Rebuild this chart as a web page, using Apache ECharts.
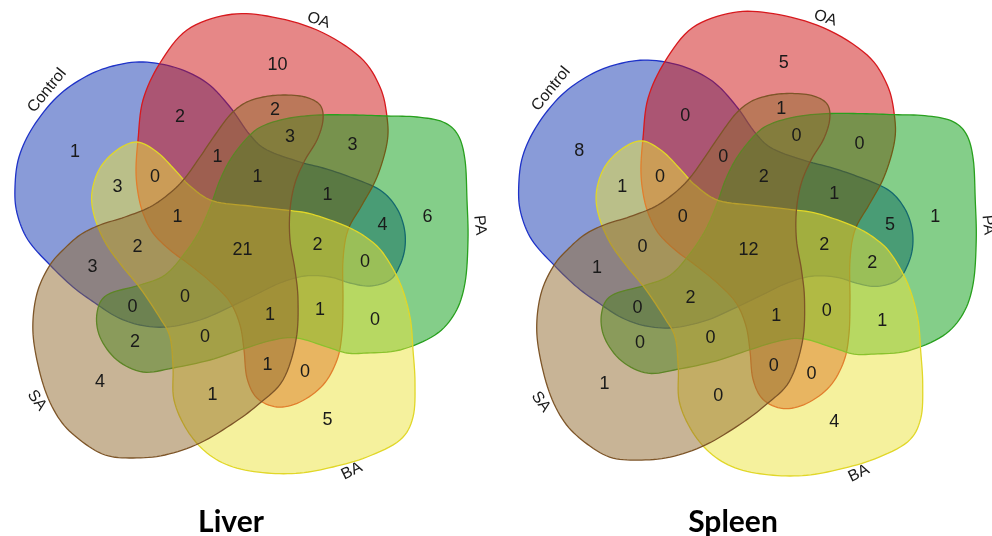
<!DOCTYPE html>
<html><head><meta charset="utf-8">
<script src="https://cdn.jsdelivr.net/npm/echarts@6/dist/echarts.min.js"></script>
<style>html,body{margin:0;padding:0;background:#fff}#c{width:992px;height:536px}</style>
</head><body><div id="c"></div>
<script>
// ---------- DATA ----------
const setNames = ['Control', 'OA', 'PA', 'BA', 'SA'];
const setLetters = ['C', 'O', 'P', 'B', 'S'];
const panelNames = ['Liver', 'Spleen'];
// region = which sets it belongs to (letters in set order)
const regionCodes = ['O','C','P','B','S','CO','OS','OPS','OP','COS','COB','CB','COPS','COP','COBS','CP','CBS','COPB','COPBS','CS','CPB','CPBS','CPS','OPBS','OPB','PB','PS','PBS','OBS','OB','BS'];
const liverValues  = [10,1,6,5,4,2,2,3,3,1,0,3,1,1,1,4,2,2,21,3,0,0,0,1,1,0,2,0,1,0,1];
const spleenValues = [5,8,1,4,1,0,1,0,0,0,0,1,2,1,0,5,0,2,12,1,2,2,0,1,0,1,0,0,0,0,0];

// ---------- LAYOUT (shape outlines of the diagram template, pixels) ----------
const shapeOutlines = [
  // Control
  [[143,62],[177,68],[207,83],[230,107],[250,135],[267,150],[300,162],[323,168],[350,177],[380,190],[396,207],[404,227],[405,247],[400,265],[390,280],[370,286],[350,283],[330,277],[305,276],[280,283],[255,295],[230,307],[200,320],[167,327],[140,325],[117,317],[95,303],[73,287],[50,265],[28,240],[17,213],[15,187],[19,157],[33,127],[57,97],[85,77],[113,66]],
  // OA
  [[160,63],[187,30],[227,15],[267,16],[317,30],[360,57],[380,87],[387,117],[387,143],[377,177],[362,205],[348,230],[343,260],[343,300],[342,333],[337,360],[323,385],[300,402],[277,407],[257,398],[247,378],[244,350],[240,325],[230,302],[212,283],[190,265],[170,250],[153,233],[143,213],[138,193],[136,170],[138,140],[143,100]],
  // PA
  [[250,135],[265,125],[290,118],[320,115],[355,115],[387,116],[417,117],[443,122],[458,135],[465,160],[467,200],[468,240],[465,283],[455,313],[435,335],[400,350],[367,353],[347,353],[327,347],[297,338],[273,340],[240,350],[210,360],[173,368],[143,372],[117,360],[100,337],[97,313],[107,295],[140,285],[165,275],[185,253],[200,230],[211,205],[220,180],[232,157]],
  // BA
  [[137,142],[157,152],[175,170],[190,186],[213,201],[250,206],[285,210],[307,213],[330,220],[350,228],[367,238],[383,253],[400,283],[410,317],[413,350],[415,383],[413,417],[400,440],[367,457],[333,467],[300,473],[267,473],[233,467],[207,453],[187,430],[174,400],[173,367],[170,337],[160,318],[140,288],[122,266],[105,242],[94,215],[92,192],[100,168],[117,150]],
  // SA
  [[50,265],[38,290],[33,320],[35,350],[45,390],[60,420],[80,440],[105,455],[133,458],[165,455],[200,443],[235,422],[260,403],[283,380],[296,340],[298,300],[295,270],[290,240],[290,210],[295,183],[305,160],[317,140],[323,120],[320,105],[305,97],[283,95],[263,97],[245,103],[230,115],[215,135],[200,157],[185,178],[170,193],[150,207],[125,217],[100,225],[80,235],[63,250]]
];
const diagramCenter = [244, 250];
const setLabelAngles = [141, 72, 6, -64, 216];   // degrees, direction of each set name from centre
const setLabelGap = [12, 10, 12, 9, 12];
const panels = [ {dx: 0, dy: 0, s: 1.0}, {dx: 506, dy: 0, s: 1.01} ];
const panelTitleX = [231, 733];
const fillColors = ['rgba(20,55,178,0.5)','rgba(205,15,15,0.5)','rgba(10,157,20,0.5)','rgba(235,228,60,0.5)','rgba(145,105,45,0.5)'];
const strokeColors = ['#1e32c8','#d7191e','#28a01e','#e1d728','#7d5528'];

// ---------- GEOMETRY HELPERS ----------
function catmull(pts, n) {
  const out = [], N = pts.length;
  for (let i = 0; i < N; i++) {
    const p0 = pts[(i - 1 + N) % N], p1 = pts[i], p2 = pts[(i + 1) % N], p3 = pts[(i + 2) % N];
    for (let j = 0; j < n; j++) {
      const t = j / n, t2 = t * t, t3 = t2 * t;
      const f = k => 0.5 * (2 * p1[k] + (-p0[k] + p2[k]) * t + (2 * p0[k] - 5 * p1[k] + 4 * p2[k] - p3[k]) * t2 + (-p0[k] + 3 * p1[k] - 3 * p2[k] + p3[k]) * t3);
      out.push([f(0), f(1)]);
    }
  }
  return out;
}
function inside(x, y, poly) {
  let c = false;
  for (let i = 0, j = poly.length - 1; i < poly.length; j = i++) {
    const xi = poly[i][0], yi = poly[i][1], xj = poly[j][0], yj = poly[j][1];
    if ((yi > y) !== (yj > y) && x < (xj - xi) * (y - yi) / (yj - yi) + xi) c = !c;
  }
  return c;
}
function segDist2(px, py, ax, ay, bx, by) {
  const vx = bx - ax, vy = by - ay;
  let t = ((px - ax) * vx + (py - ay) * vy) / (vx * vx + vy * vy || 1);
  t = Math.max(0, Math.min(1, t));
  const dx = ax + t * vx - px, dy = ay + t * vy - py;
  return dx * dx + dy * dy;
}
const smoothShapes = shapeOutlines.map(p => catmull(p, 8));

// label position of every region: near its centroid, but well inside it
function regionAnchors() {
  const segs = [];
  smoothShapes.forEach(poly => { for (let i = 0; i < poly.length; i++) { const a = poly[i], b = poly[(i + 1) % poly.length]; segs.push([a[0], a[1], b[0], b[1]]); } });
  const pts = {};
  for (let y = 10; y <= 480; y += 2.5) {
    for (let x = 10; x <= 475; x += 2.5) {
      let code = '';
      smoothShapes.forEach((poly, k) => { if (inside(x, y, poly)) code += setLetters[k]; });
      if (!code) continue;
      let d = Infinity;
      for (const s of segs) { const v = segDist2(x, y, s[0], s[1], s[2], s[3]); if (v < d) d = v; }
      (pts[code] = pts[code] || []).push({x, y, d: Math.sqrt(d)});
    }
  }
  const out = {};
  Object.keys(pts).forEach(code => {
    const list = pts[code];
    let cx = 0, cy = 0, maxd = 0;
    list.forEach(p => { cx += p.x; cy += p.y; maxd = Math.max(maxd, p.d); });
    cx /= list.length; cy /= list.length;
    let best = null, bd = Infinity;
    list.forEach(p => {
      if (p.d < 0.6 * maxd) return;
      const dd = (p.x - cx) ** 2 + (p.y - cy) ** 2;
      if (dd < bd) { bd = dd; best = p; }
    });
    out[code] = best;
  });
  return out;
}
const anchors = regionAnchors();

function setLabelPos(k) {
  const a = setLabelAngles[k] * Math.PI / 180;
  let last = 0;
  for (let t = 0; t < 330; t += 0.5) {
    const x = diagramCenter[0] + t * Math.cos(a), y = diagramCenter[1] - t * Math.sin(a);
    if (inside(x, y, smoothShapes[k])) last = t;
  }
  const r = last + setLabelGap[k];
  let rot = setLabelAngles[k] - 90;
  while (rot > 90) rot -= 180;
  while (rot <= -90) rot += 180;
  return {x: diagramCenter[0] + r * Math.cos(a), y: diagramCenter[1] - r * Math.sin(a), rot: rot * Math.PI / 180};
}
function tp(p, pt) {
  const P = panels[p], c = diagramCenter;
  return [c[0] + (pt[0] - c[0]) * P.s + P.dx, c[1] + (pt[1] - c[1]) * P.s + P.dy];
}

// ---------- SERIES DATA ----------
const shapeData = [];
panels.forEach((_, p) => setNames.forEach((_, k) => shapeData.push([p, k])));
const numberData = [];
[liverValues, spleenValues].forEach((vals, p) => {
  regionCodes.forEach((code, i) => {
    const a = anchors[code];
    if (!a) return;
    const q = tp(p, [a.x, a.y]);
    numberData.push([q[0], q[1], vals[i]]);
  });
});
const setLabelData = [];
panels.forEach((_, p) => setNames.forEach((name, k) => {
  const L = setLabelPos(k); const q = tp(p, [L.x, L.y]);
  setLabelData.push([q[0], q[1], L.rot, k]);
}));

const chart = echarts.init(document.getElementById('c'));
chart.setOption({
  animation: false,
  grid: {left: 0, right: 0, top: 0, bottom: 0},
  xAxis: {type: 'value', min: 0, max: 992, show: false},
  yAxis: {type: 'value', min: 0, max: 536, inverse: true, show: false},
  series: [
    {
      type: 'custom', data: shapeData, z: 1, silent: true,
      renderItem(params, api) {
        const p = api.value(0), k = api.value(1);
        const pts = smoothShapes[k].map(pt => api.coord(tp(p, pt)));
        return {type: 'polygon', shape: {points: pts}, style: {fill: fillColors[k], stroke: strokeColors[k], lineWidth: 1.3}};
      }
    },
    {
      type: 'custom', data: numberData, z: 3, silent: true,
      renderItem(params, api) {
        const c = api.coord([api.value(0), api.value(1)]);
        return {type: 'text', x: c[0], y: c[1], style: {text: String(api.value(2)), align: 'center', verticalAlign: 'middle', font: '18px "Liberation Sans", Arial, sans-serif', fill: '#1a1a1a'}};
      }
    },
    {
      type: 'custom', data: setLabelData, z: 3, silent: true,
      renderItem(params, api) {
        const c = api.coord([api.value(0), api.value(1)]);
        return {type: 'text', x: c[0], y: c[1], rotation: api.value(2), style: {text: setNames[api.value(3)], align: 'center', verticalAlign: 'middle', font: '16px "Liberation Sans", Arial, sans-serif', fill: '#1a1a1a'}};
      }
    }
  ],
  graphic: panelNames.map((t, i) => ({type: 'text', x: panelTitleX[i], y: 522, style: {text: t, align: 'center', verticalAlign: 'middle', font: 'bold 30px Lato, "Open Sans", sans-serif', fill: '#000'}}))
});
</script></body></html>
